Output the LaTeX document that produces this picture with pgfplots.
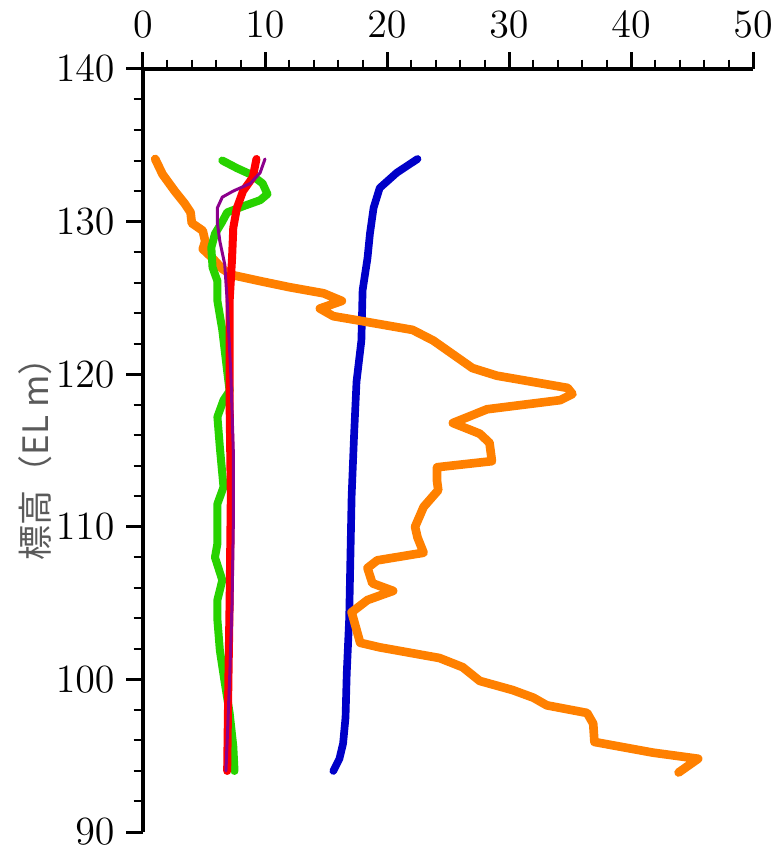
\documentclass[border=0pt]{standalone}
\usepackage{pgfplots}
\pgfplotsset{compat=1.18}
\usepackage{fontspec}
\newfontfamily\jpfont{Noto Sans CJK JP}
\definecolor{cOrange}{RGB}{255,128,0}
\definecolor{cBlue}{RGB}{0,0,200}
\definecolor{cGreen}{RGB}{40,210,0}
\definecolor{cRed}{RGB}{255,0,0}
\definecolor{cPurple}{RGB}{140,0,140}
\definecolor{cLabel}{RGB}{90,90,90}
\begin{document}
\begin{tikzpicture}
\begin{axis}[
  scale only axis, width=183pt, height=228.9pt,
  xmin=0, xmax=50, ymin=90, ymax=140,
  axis x line*=top, axis y line*=left,
  axis line style={line width=1.2pt},
  xtick={0,10,...,50}, ytick={90,100,...,140},
  minor x tick num=4, minor y tick num=4,
  tick align=outside,
  major tick length=5pt, minor tick length=2.8pt,
  every major tick/.append style={line width=0.9pt, black},
  every minor tick/.append style={line width=0.6pt, black},
  tick label style={font=\fontsize{11.5}{13}\selectfont},
  xticklabel style={yshift=1pt},
  ylabel={\jpfont 標高（EL m）},
  ylabel style={at={(rel axis cs:-0.177,0.5)}, anchor=center, font=\fontsize{10.5}{12}\selectfont, text=cLabel},
  clip=false,
  every axis plot/.append style={line join=round, line cap=round},
]
\addplot[cBlue, line width=2.3pt] coordinates {
(22.5,134.1)(20.8,133.2)(19.4,132.2)(18.9,130.9)(18.6,129.2)(18.4,127.6)(18.0,125.5)(17.9,122.2)(17.5,119.5)(17.3,116)(17.1,112)(17.0,108)(16.9,104)(16.7,100.4)(16.6,97.5)(16.4,95.8)(16.1,94.8)(15.6,94.0)
};
\addplot[cOrange, line width=2.6pt] coordinates {
(1.0,134.1)(1.6,133.1)(2.6,132.0)(3.4,131.2)(3.9,130.6)(4.0,129.9)(4.9,129.4)(5.1,128.7)(4.9,128.2)(5.7,127.6)(6.5,126.9)(7.3,126.5)(9.6,126.1)(12.0,125.7)(14.8,125.3)(16.3,124.8)(14.5,124.3)(15.6,123.8)(17.8,123.5)(22.1,122.9)(23.8,122.2)(25.4,121.3)(27.0,120.4)(29.0,119.9)(34.8,119.1)(35.2,118.7)(34.2,118.3)(28.2,117.7)(25.4,116.8)(27.6,116.1)(28.4,115.5)(28.6,114.3)(24.1,113.9)(24.1,113.0)(24.2,112.4)(23.0,111.3)(22.3,110.0)(22.5,109.3)(23.0,108.3)(19.2,107.8)(18.4,107.3)(18.8,106.3)(20.5,105.8)(18.4,105.2)(17.1,104.4)(17.8,102.4)(19.4,102.1)(24.3,101.4)(26.2,100.8)(27.6,99.9)(30.3,99.3)(32.0,98.8)(33.1,98.3)(36.4,97.8)(36.9,97.1)(37.0,95.9)(41.8,95.2)(45.5,94.8)(43.9,93.9)
};
\addplot[cGreen, line width=2.4pt] coordinates {
(6.5,134.0)(7.7,133.5)(8.8,133.1)(9.8,132.5)(10.2,131.8)(9.6,131.4)(8.2,131.0)(6.9,130.6)(6.5,130.0)(5.9,129.2)(5.6,128.3)(5.7,127.0)(6.1,126.1)(6.1,124.8)(6.5,122.9)(6.9,120.2)(7.1,118.9)(6.6,118.3)(6.1,117.2)(6.3,115.2)(6.6,112.6)(6.1,111.5)(6.1,108.9)(5.9,108.0)(6.5,106.5)(6.1,105.2)(6.1,103.9)(6.3,101.9)(6.7,99.8)(7.1,97.8)(7.4,95.6)(7.5,94.0)
};
\addplot[cRed, line width=2.4pt] coordinates {
(9.3,134.1)(9.0,132.9)(8.2,132.0)(7.7,130.9)(7.4,129.6)(7.3,127.6)(7.1,124.8)(7.1,118)(7.2,112)(7.1,105)(7.0,100)(6.9,94.0)
};
\addplot[cPurple, line width=0.9pt] coordinates {
(10.0,134.1)(9.6,133.2)(8.8,132.5)(7.4,132.0)(6.5,131.6)(6.1,130.9)(6.1,129.9)(6.3,128.7)(6.7,127.2)(6.9,124.8)(7.2,120)(7.4,115)(7.4,110)(7.3,105)(7.1,100)(6.8,94.0)
};
\coordinate (BL) at (rel axis cs:-0.2344,-0.0249);
\coordinate (TR) at (rel axis cs:1.041,1.0904);
\end{axis}
\pgfresetboundingbox
\path[use as bounding box] (BL) rectangle (TR);
\end{tikzpicture}
\end{document}
